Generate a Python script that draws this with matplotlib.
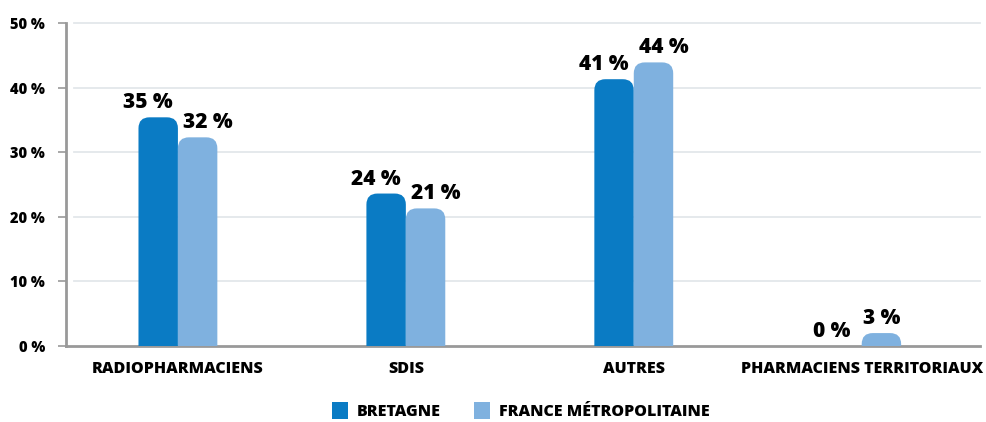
import matplotlib.pyplot as plt
from matplotlib.patches import FancyBboxPatch, Patch

plt.rcParams['font.family'] = ['Open Sans', 'DejaVu Sans']

categories = ["RADIOPHARMACIENS", "SDIS", "AUTRES", "PHARMACIENS TERRITORIAUX"]
bretagne = [35.4, 23.6, 41.3, 0.0]
france = [32.3, 21.3, 43.9, 2.0]
labels_bretagne = ["35 %", "24 %", "41 %", "0 %"]
labels_france = ["32 %", "21 %", "44 %", "3 %"]
yticks = [0, 10, 20, 30, 40, 50]

c_bret = "#0a7bc4"
c_fr = "#7fb1df"
W = 800  # extra bold

fig = plt.figure(figsize=(9.87, 4.22), dpi=100)
ax = fig.add_axes([66 / 987, 1 - 346 / 422, (980 - 66) / 987, (346 - 23) / 422])

xlim = (-0.491, 3.519)
ylim = (0, 50)
ax.set_xlim(*xlim)
ax.set_ylim(*ylim)

# pixel scale for rounded corners
ax_w_px = 980 - 66
ax_h_px = 346 - 23
px_x = ax_w_px / (xlim[1] - xlim[0])
px_y = ax_h_px / (ylim[1] - ylim[0])
aspect = px_x / px_y

w = 0.173
r = 11 / px_x


def rounded_bar(x0, h, color):
    if h <= 0:
        return
    p = FancyBboxPatch((x0, -5), w, h + 5,
                       boxstyle=f"round,pad=0,rounding_size={r}",
                       mutation_aspect=aspect, fc=color, ec="none",
                       zorder=3, clip_on=True)
    ax.add_patch(p)


for i in range(len(categories)):
    rounded_bar(i - w, bretagne[i], c_bret)
    rounded_bar(i, france[i], c_fr)
    ax.text(i - w / 2 - 10 / px_x, bretagne[i] + 9 / px_y, labels_bretagne[i],
            ha="center", va="baseline", fontsize=15, fontweight=W, color="black")
    ax.text(i + w / 2 + 10 / px_x if france[i] > 5 else i + w / 2, france[i] + 9 / px_y,
            labels_france[i], ha="center", va="baseline", fontsize=15,
            fontweight=W, color="black")

ax.set_yticks(yticks)
ax.set_yticklabels([f"{v} %" for v in yticks], fontsize=10.5, fontweight=W)
ax.set_xticks(range(len(categories)))
ax.set_xticklabels(categories, fontsize=11.5, fontweight=W)
ax.tick_params(axis="x", length=0, pad=11)
ax.tick_params(axis="y", length=6, width=1.2, color="#999999", pad=9)

for y in yticks[1:]:
    ax.plot([xlim[0] + 8 / px_x, xlim[1]], [y, y], color="#e3e7eb", lw=1.3,
            zorder=1, clip_on=False)

for s in ["top", "right"]:
    ax.spines[s].set_visible(False)
ax.spines["left"].set_color("#999999")
ax.spines["left"].set_linewidth(2)
ax.spines["bottom"].set_color("#999999")
ax.spines["bottom"].set_linewidth(2)

handles = [Patch(fc=c_bret, ec="none"), Patch(fc=c_fr, ec="none")]
fig.legend(handles, ["BRETAGNE", "FRANCE MÉTROPOLITAINE"], loc="center",
           bbox_to_anchor=(521 / 987, 1 - 411 / 422), ncol=2, frameon=False,
           prop={"weight": W, "size": 11.5}, handlelength=1.0, handleheight=1.2,
           handletextpad=0.55, columnspacing=2.1)

fig.savefig("out.png", dpi=100)
